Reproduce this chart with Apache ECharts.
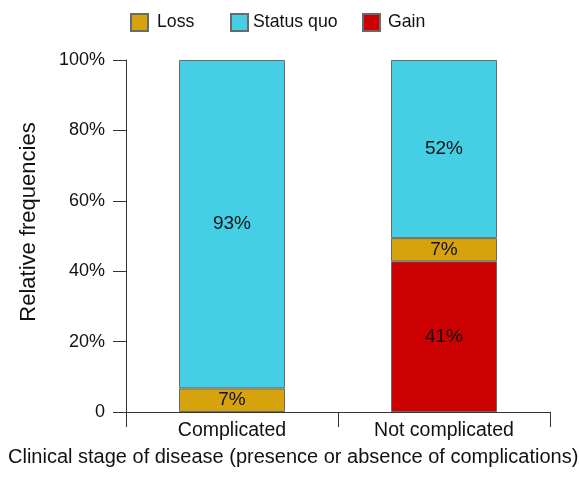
<!DOCTYPE html>
<html>
<head>
<meta charset="utf-8">
<script src="https://cdn.jsdelivr.net/npm/echarts@6/dist/echarts.min.js"></script>
<style>html,body{margin:0;padding:0;background:#fff}#c{width:579px;height:481px}</style>
</head>
<body>
<div id="c"></div>
<script>
var categories = ['Complicated', 'Not complicated'];
var gainValues = [null, 42.8];
var lossValues = [6.7, 6.6];
var statusQuoValues = [93.3, 50.6];
var gainLabels = ['', '41%'];
var lossLabels = ['7%', '7%'];
var statusQuoLabels = ['93%', '52%'];
var yTicks = [0, 20, 40, 60, 80, 100];

var FONT = '"Liberation Sans", Arial, Helvetica, sans-serif';
var colors = { 'Loss': '#D6A30C', 'Status quo': '#45CFE5', 'Gain': '#CC0000' };

function mkSeries(name, data, labels) {
  return {
    name: name, type: 'bar', stack: 'total', data: data, barWidth: '50%',
    itemStyle: { color: colors[name], borderColor: '#6a6a6a', borderWidth: 1 },
    label: {
      show: true, position: 'inside', fontFamily: FONT, fontSize: 19, color: '#111',
      formatter: function (p) { return labels[p.dataIndex]; }
    },
    emphasis: { disabled: true }
  };
}

function mkLegend(name, left, pad) {
  return {
    data: [name], left: left, top: 8, itemWidth: 17, itemHeight: 17, itemGap: 0,
    icon: 'rect', selectedMode: false,
    textStyle: { fontFamily: FONT, fontSize: 17.7, color: '#111', padding: [0, 0, 0, pad] }
  };
}

var chart = echarts.init(document.getElementById('c'), null, { renderer: 'canvas' });
chart.setOption({
  animation: false,
  backgroundColor: '#fff',
  textStyle: { fontFamily: FONT },
  legend: [mkLegend('Loss', 125, 4), mkLegend('Status quo', 225, 0), mkLegend('Gain', 357, 3)],
  title: {
    text: 'Clinical stage of disease (presence or absence of complications)',
    left: 3, top: 442,
    textStyle: { fontFamily: FONT, fontSize: 20, fontWeight: 'normal', color: '#111' }
  },
  grid: { left: 126, right: 29, top: 60, bottom: 69 },
  xAxis: {
    type: 'category', data: categories, boundaryGap: true,
    axisLine: { lineStyle: { color: '#333', width: 1 } },
    axisTick: { show: true, length: 15, lineStyle: { color: '#333' } },
    axisLabel: { fontFamily: FONT, fontSize: 19.5, color: '#111', margin: 9 }
  },
  yAxis: {
    type: 'value', min: 0, max: 100, interval: 20,
    name: 'Relative frequencies', nameLocation: 'middle', nameGap: 86,
    nameTextStyle: { fontFamily: FONT, fontSize: 22, color: '#111', padding: [0, 0, 0, 28] },
    splitLine: { show: false },
    axisLine: { show: true, lineStyle: { color: '#333', width: 1 } },
    axisTick: { show: true, length: 13, lineStyle: { color: '#333' } },
    axisLabel: {
      fontFamily: FONT, fontSize: 18, color: '#111', margin: 21,
      formatter: function (v) { return yTicks.indexOf(v) === 0 ? '0' : v + '%'; }
    }
  },
  series: [
    mkSeries('Gain', gainValues, gainLabels),
    mkSeries('Loss', lossValues, lossLabels),
    mkSeries('Status quo', statusQuoValues, statusQuoLabels)
  ]
});
</script>
</body>
</html>
